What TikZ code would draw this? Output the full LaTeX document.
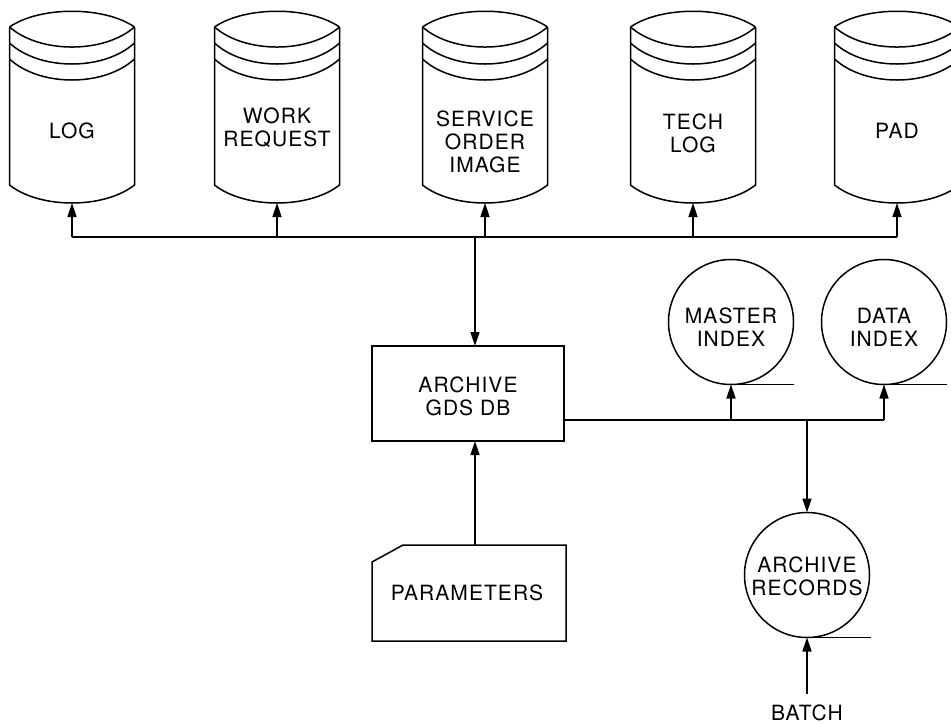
\documentclass[tikz,border=0pt]{standalone}
\usepackage{fontspec}
\setmainfont{TeX Gyre Heros}[LetterSpace=5]
\usetikzlibrary{arrows.meta}

% Disk store drawn as a banded cylinder: #1 node name, #2 centre x
\newcommand\diskstore[2]{%
  \node[cylbox] (#1) at (#2,107.5) {};
  \draw ({#2-62.5},27) .. controls ({#2-32},6) and ({#2+32},6) .. ({#2+62.5},27);
  \draw ({#2-62.5},27) .. controls ({#2-32},53.7) and ({#2+32},53.7) .. ({#2+62.5},27);
  \draw ({#2-62.5},43) .. controls ({#2-32},71) and ({#2+32},71) .. ({#2+62.5},43);
  \draw ({#2-62.5},59) .. controls ({#2-32},87) and ({#2+32},87) .. ({#2+62.5},59);
  \draw ({#2-62.5},27) -- ({#2-62.5},185)
        .. controls ({#2-32},209) and ({#2+32},209) .. ({#2+62.5},185)
        -- ({#2+62.5},27);
}

\begin{document}
\begin{tikzpicture}[x=1pt,y=-1pt,line width=1.5pt,line join=miter,
  lbl/.style={align=center,inner sep=0pt,font=\fontsize{21}{23}\selectfont},
  cylbox/.style={inner sep=0pt,outer sep=0pt,minimum width=125pt,minimum height=191pt},
  store/.style={circle,draw,inner sep=0pt,outer sep=0pt,minimum size=125pt},
  procbox/.style={rectangle,draw,inner sep=0pt,outer sep=0pt,minimum width=192pt,minimum height=95pt},
  flow/.style={-{Triangle[length=14pt,width=9pt]}}]
\useasboundingbox (0,0) rectangle (951,724);
\clip (0,0) rectangle (951,724);
\fill[white] (0,0) rectangle (951,724);

% disk stores along the top
\diskstore{log}{72}
\diskstore{work}{277}
\diskstore{soi}{485}
\diskstore{tech}{693}
\diskstore{pad}{897}
\node[lbl] at (72,131) {LOG};
\node[lbl] at (277,127.5) {WORK\\REQUEST};
\node[lbl] at (485,141.5) {SERVICE\\ORDER\\IMAGE};
\node[lbl] at (693,133.5) {TECH\\LOG};
\node[lbl] at (897,131) {PAD};

% central process and its parameter card
\node[procbox] (arch) at (468,393.5) {};
\node[lbl] at (468,396) {ARCHIVE\\GDS DB};

\node[inner sep=0pt,outer sep=0pt,minimum width=194pt,minimum height=96pt] (par) at (469,593) {};
\draw (par.north west) ++(0,17) -- ++(31,-17) -- (par.north east) -- (par.south east)
      -- (par.south west) -- cycle;
\node[lbl] at (467,593) {PARAMETERS};

% index and record files
\node[store] (mi) at (731,322) {};
\node[lbl] at (731,327.5) {MASTER\\INDEX};
\draw (mi.south) -- ++(63,0);
\node[store] (di) at (884,322) {};
\node[lbl] at (884,327.5) {DATA\\INDEX};
\draw (di.south) -- ++(63,0);
\node[store] (rec) at (807,575) {};
\node[lbl] at (807,576) {ARCHIVE\\RECORDS};
\draw (rec.south) -- ++(64,0);
\node[lbl] (batch) at (807,713) {BATCH};

% distribution bus to the disk stores
\coordinate (hub) at (475,237);
\draw (log.south |- hub) -- (pad.south |- hub);
\foreach \s in {log,work,soi,tech,pad}
  \draw[flow] (\s.south |- hub) -- (\s.south);
\draw[flow] (hub) -- (hub |- arch.north);
\draw[flow] (hub |- par.north) -- (hub |- arch.south);

% output line to the indexes and records
\coordinate (out) at (807,420);
\draw (arch.east |- out) -- (di.south |- out);
\draw[flow] (mi.south |- out) -- (mi.south);
\draw[flow] (di.south |- out) -- (di.south);
\draw[flow] (out) -- (rec.north);
\draw[flow] ([yshift=10pt]batch.north) -- (rec.south);
\end{tikzpicture}
\end{document}
